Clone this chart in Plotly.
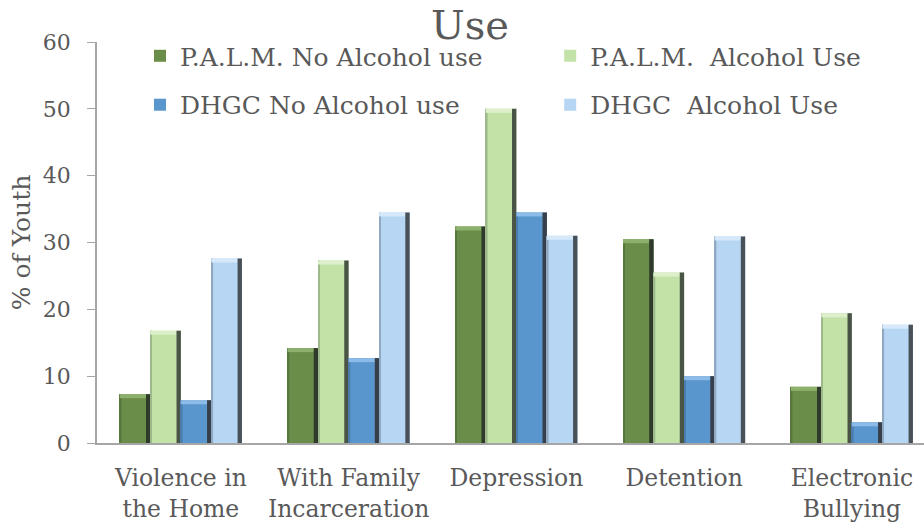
import plotly.graph_objects as go

# Risk factors by program and alcohol use (% of youth)
categories = ["Violence in<br>the Home", "With Family<br>Incarceration", "Depression",
              "Detention", "Electronic<br>Bullying"]
palm_no_alcohol = [7.3, 14.2, 32.4, 30.5, 8.4]
palm_alcohol = [16.8, 27.3, 50.0, 25.5, 19.4]
dhgc_no_alcohol = [6.4, 12.7, 34.5, 10.0, 3.1]
dhgc_alcohol = [27.6, 34.5, 31.0, 30.9, 17.7]

series_names = ["P.A.L.M. No Alcohol use", "P.A.L.M.  Alcohol Use",
                "DHGC No Alcohol use", "DHGC  Alcohol Use"]
series_values = [palm_no_alcohol, palm_alcohol, dhgc_no_alcohol, dhgc_alcohol]
fill_colors = ["#6A8E4A", "#C3E2A8", "#5A96CE", "#B6D6F3"]
top_colors = ["#8DB16C", "#DDF0CB", "#8BBBE6", "#D6E9FA"]
left_colors = ["#58773C", "#9DB88A", "#4C7DAA", "#8FA9C2"]
edge_color = ["#2F3A2A", "#4A5446", "#37404A", "#485058"]

# one legend box per entry, laid out as a 2 x 2 grid
legend_ids = ["legend", "legend2", "legend3", "legend4"]
legend_x = [0.052, 0.548, 0.052, 0.548]
legend_y = [0.965, 0.965, 0.843, 0.843]

FONT = "DejaVu Serif, Liberation Serif, serif"
TXT = "#595959"

bar_w = 0.182
group_start = -2 * bar_w
edge_w = 0.026
left_w = 0.010
bevel_h = 0.6

x_idx = list(range(len(categories)))

fig = go.Figure()
for i, (name, vals) in enumerate(zip(series_names, series_values)):
    off = group_start + i * bar_w
    # body of the bar
    fig.add_trace(go.Bar(
        x=x_idx, y=vals, name=name, offset=off, width=bar_w,
        marker=dict(color=fill_colors[i], line=dict(width=0)),
        legend=legend_ids[i], hoverinfo="y+name",
    ))
    # left bevel edge
    fig.add_trace(go.Bar(
        x=x_idx, y=vals, offset=off, width=left_w, showlegend=False,
        marker=dict(color=left_colors[i], line=dict(width=0)), hoverinfo="skip",
    ))
    # top bevel highlight
    fig.add_trace(go.Bar(
        x=x_idx, y=[bevel_h] * len(vals), base=[v - bevel_h for v in vals],
        offset=off, width=bar_w - edge_w, showlegend=False,
        marker=dict(color=top_colors[i], line=dict(width=0)), hoverinfo="skip",
    ))
    # dark shaded right side
    fig.add_trace(go.Bar(
        x=x_idx, y=vals, offset=off + bar_w - edge_w, width=edge_w, showlegend=False,
        marker=dict(color=edge_color[i], line=dict(width=0)), hoverinfo="skip",
    ))

legend_common = dict(
    orientation="h", xanchor="left", yanchor="middle",
    font=dict(family=FONT, size=25, color=TXT),
    bgcolor="rgba(0,0,0,0)", itemwidth=30,
)
legend_layout = {
    lid: dict(x=lx, y=ly, **legend_common)
    for lid, lx, ly in zip(legend_ids, legend_x, legend_y)
}

fig.update_layout(
    width=924, height=527,
    margin=dict(l=97, r=0, t=42, b=84),
    paper_bgcolor="white", plot_bgcolor="white",
    barmode="overlay",
    title=dict(text="Use", x=0.5087, xanchor="center", y=0.952, yanchor="middle",
               font=dict(family=FONT, size=40, color=TXT)),
    **legend_layout,
    xaxis=dict(
        range=[-0.5, 4.43], tickmode="array", tickvals=x_idx, ticktext=categories,
        showline=True, linecolor="#A6A6A6", linewidth=2, ticks="",
        ticklabelstandoff=13,
        showgrid=False, zeroline=False,
        tickfont=dict(family=FONT, size=23.5, color=TXT),
    ),
    yaxis=dict(
        range=[0, 60], tickmode="linear", dtick=10, tick0=0,
        showline=True, linecolor="#A6A6A6", linewidth=1.5,
        ticks="outside", ticklen=8, tickcolor="#A6A6A6",
        ticklabelstandoff=12,
        showgrid=False, zeroline=False,
        tickfont=dict(family=FONT, size=22, color=TXT),
        title=dict(text="% of Youth", font=dict(family=FONT, size=25, color=TXT), standoff=5),
    ),
)

fig.write_html("out.html")
